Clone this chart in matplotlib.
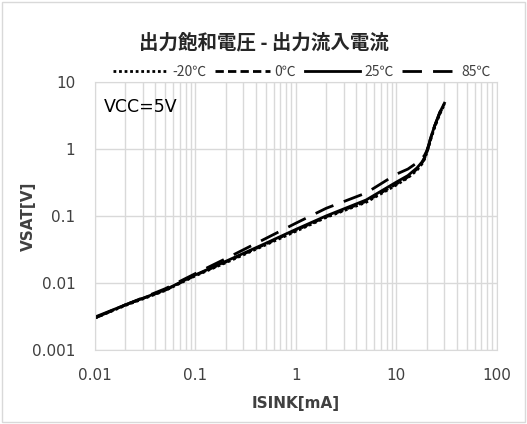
import matplotlib
matplotlib.use("Agg")
import matplotlib.pyplot as plt
from matplotlib.ticker import LogLocator, FixedLocator, NullFormatter

plt.rcParams['font.family'] = ['DejaVu Sans', 'Noto Sans CJK JP']

# data
isink = [0.01, 0.02, 0.05, 0.1, 0.2, 0.5, 1, 2, 5, 10, 13, 16, 18, 19, 20, 21, 22, 24, 27, 30]
v_m20 = [0.003, 0.0046, 0.0077, 0.0128, 0.020, 0.037, 0.059, 0.095, 0.16, 0.29, 0.37, 0.48, 0.60, 0.70, 0.86, 1.1, 1.4, 2.1, 3.3, 4.6]
v_0 = [0.003, 0.0047, 0.0078, 0.013, 0.0205, 0.038, 0.061, 0.097, 0.165, 0.30, 0.38, 0.50, 0.62, 0.72, 0.88, 1.12, 1.45, 2.2, 3.4, 4.7]
v_25 = [0.0031, 0.0047, 0.0079, 0.0132, 0.021, 0.039, 0.063, 0.10, 0.173, 0.32, 0.40, 0.52, 0.64, 0.74, 0.90, 1.15, 1.5, 2.2, 3.5, 4.8]
v_85 = [0.003, 0.0047, 0.0082, 0.0138, 0.023, 0.046, 0.078, 0.13, 0.22, 0.42, 0.50, 0.62, 0.72, 0.80, 0.93, 1.15, 1.5, 2.2, 3.5, 4.8]

labels = ['-20℃', '0℃', '25℃', '85℃']
styles = [(0, (1, 1)), (0, (3, 1.5)), '-', (0, (7, 4))]

fig = plt.figure(figsize=(5.27, 4.24), dpi=100)
ax = fig.add_axes([0.180, 0.1745, 0.763, 0.6325])

for v, lab, ls in zip([v_m20, v_0, v_25, v_85], labels, styles):
    ax.plot(isink, v, color='black', linestyle=ls, linewidth=2, label=lab)

ax.set_xscale('log')
ax.set_yscale('log')
ax.set_xlim(0.01, 100)
ax.set_ylim(0.001, 10)

ax.xaxis.set_major_locator(FixedLocator([0.01, 0.1, 1, 10, 100]))
ax.xaxis.set_minor_locator(LogLocator(base=10, subs=range(2, 10)))
ax.xaxis.set_minor_formatter(NullFormatter())
ax.yaxis.set_major_locator(FixedLocator([0.001, 0.01, 0.1, 1, 10]))
ax.yaxis.set_minor_locator(FixedLocator([]))
ax.set_xticklabels(['0.01', '0.1', '1', '10', '100'])
ax.set_yticklabels(['0.001', '0.01', '0.1', '1', '10'])

ax.grid(True, which='major', color='#d9d9d9', linewidth=1)
ax.grid(True, which='minor', axis='x', color='#d9d9d9', linewidth=1)
for s in ax.spines.values():
    s.set_color('#d9d9d9')
ax.tick_params(which='both', length=0, labelsize=11, labelcolor='#404040')
ax.tick_params(axis='x', pad=13)
ax.tick_params(axis='y', pad=14)

ax.set_xlabel('ISINK[mA]', fontsize=11, fontweight='bold', color='#404040', labelpad=9)
ax.set_ylabel('VSAT[V]', fontsize=11, fontweight='bold', color='#404040', labelpad=-3)

ax.text(0.022, 0.905, 'VCC=5V', transform=ax.transAxes, fontsize=12.5, color='black', va='center')

fig.text(0.500, 0.90, '出力飽和電圧 - 出力流入電流', fontsize=14, fontweight='bold',
         color='#262626', ha='center', va='center', family=['Noto Sans CJK JP'])
ax.legend(loc='lower center', bbox_to_anchor=(0.515, 0.99), ncol=4, frameon=False,
          prop={'family': ['Noto Sans CJK JP'], 'size': 10}, handlelength=4.0,
          handletextpad=0.3, columnspacing=0.6, labelcolor='#404040', borderaxespad=0)

fig.patches.append(plt.Rectangle((0.004, 0.004), 0.992, 0.992, transform=fig.transFigure,
                                 fill=False, edgecolor='#d9d9d9', linewidth=1))

fig.savefig('out.png', dpi=100)
